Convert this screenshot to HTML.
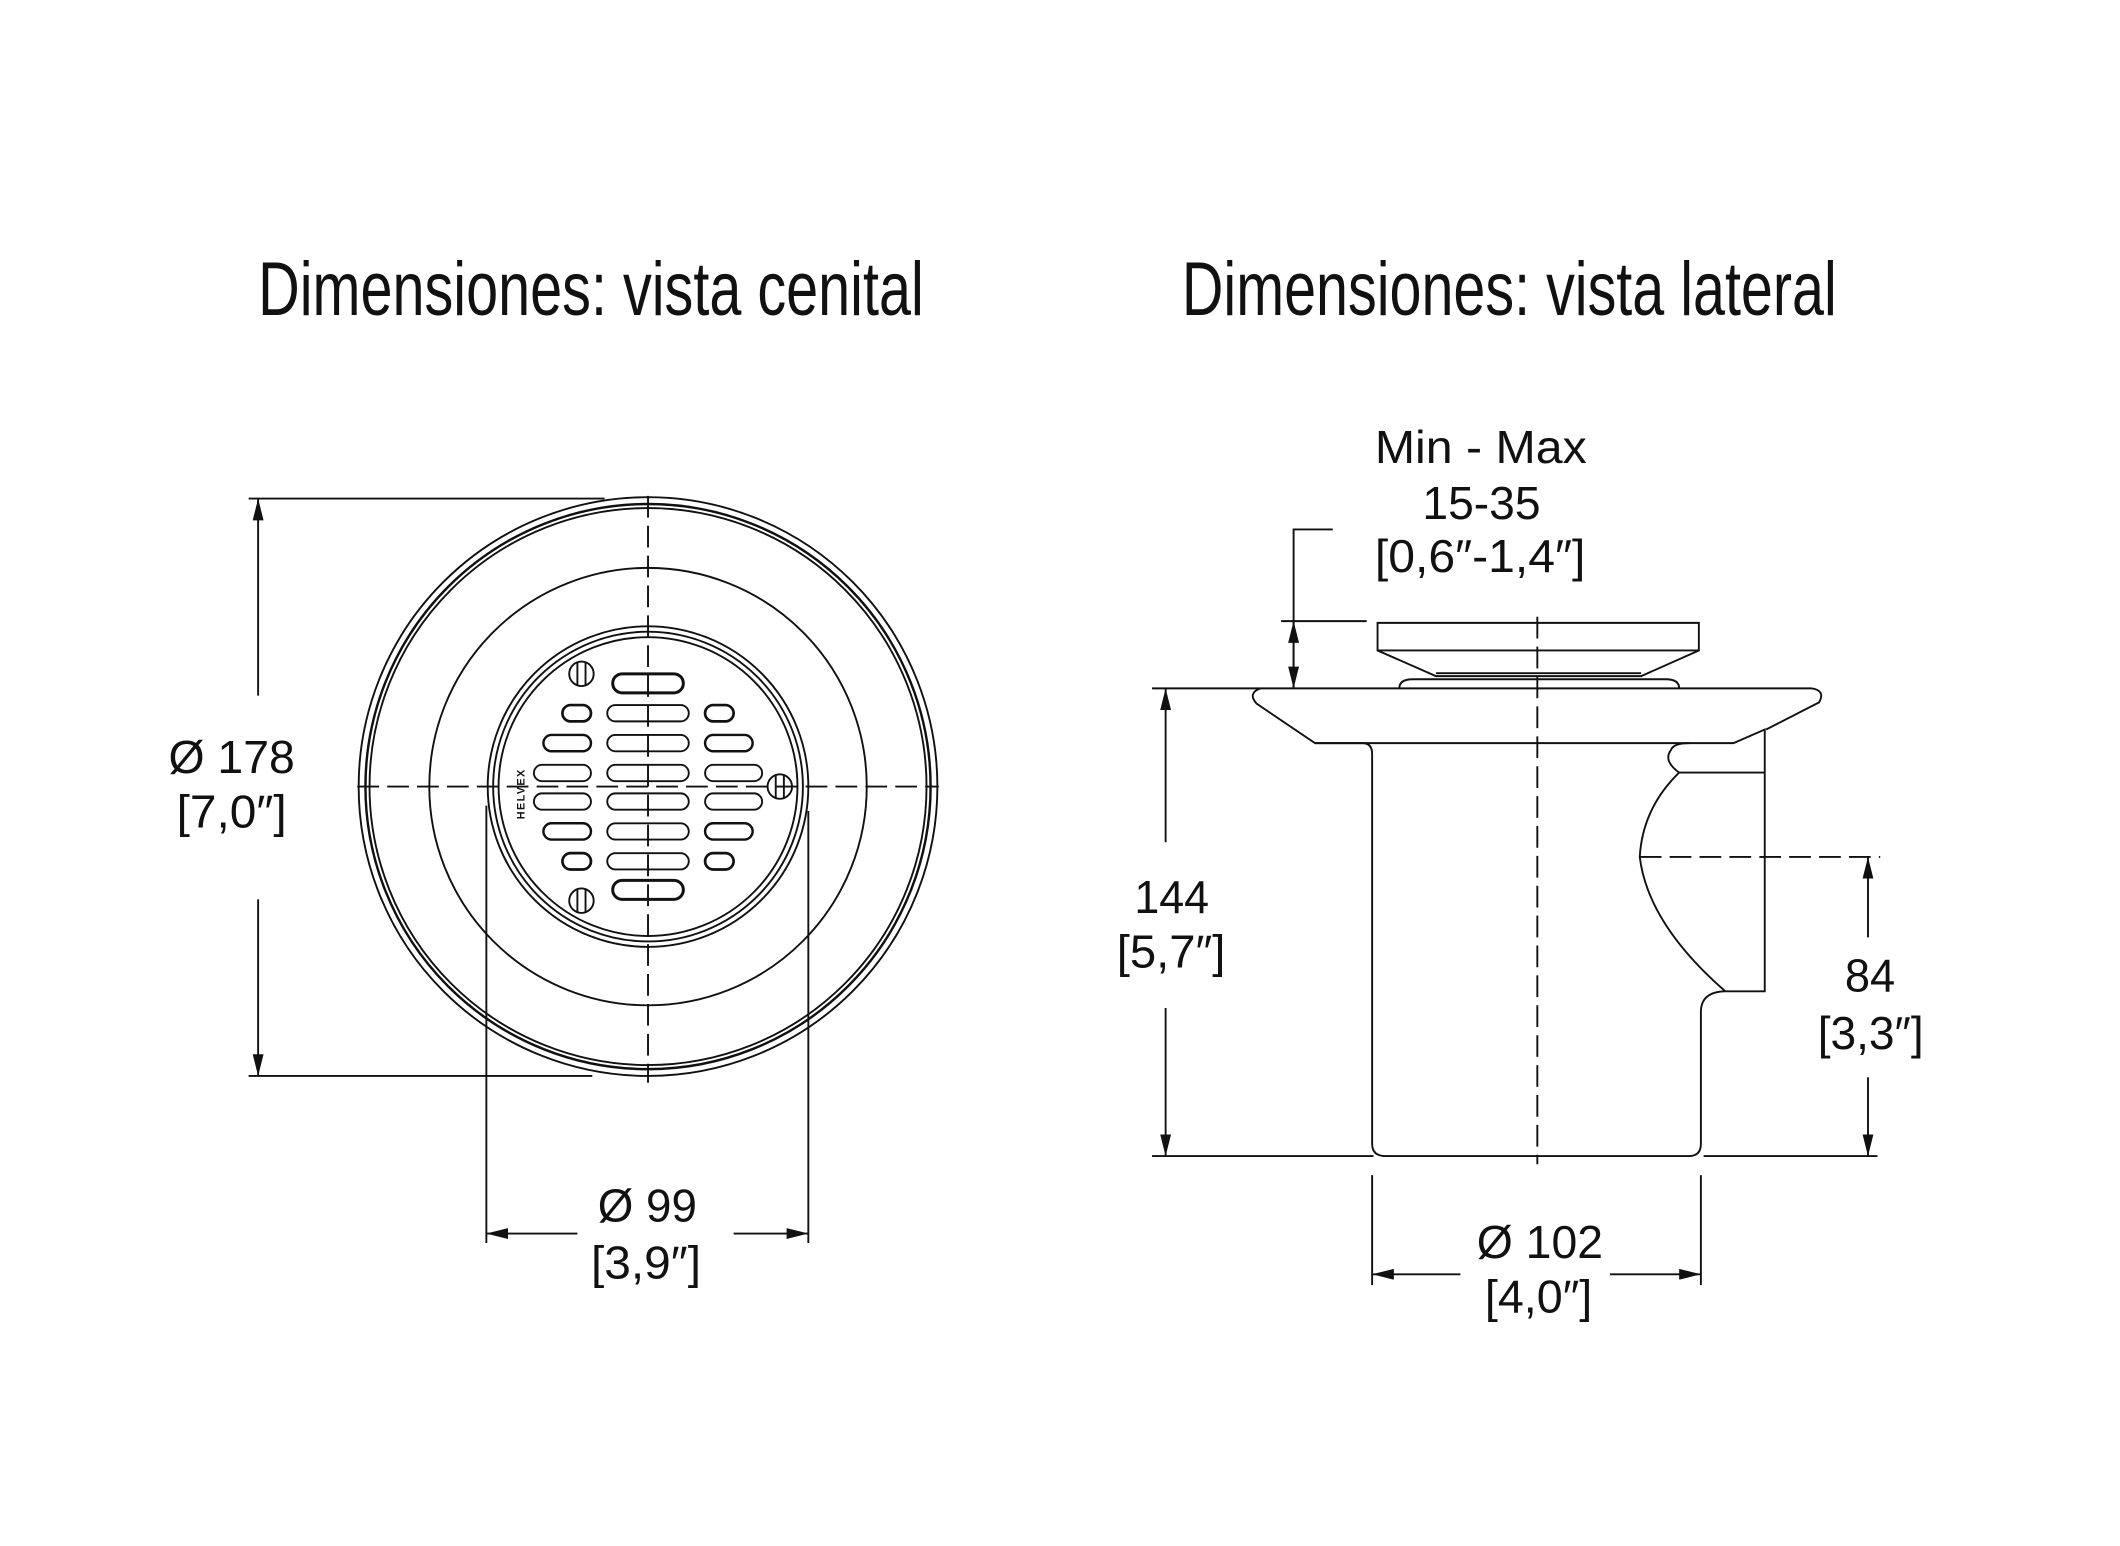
<!DOCTYPE html>
<html><head><meta charset="utf-8"><style>
html,body{margin:0;padding:0;background:#fff;}
svg{display:block;}
text{font-family:"Liberation Sans",sans-serif;fill:#111;}
</style></head><body>
<svg width="2120" height="1546" viewBox="0 0 1560.5 1138" preserveAspectRatio="none" xmlns="http://www.w3.org/2000/svg">
<defs>
<marker id="a" viewBox="0 0 16 8" refX="16" refY="4" markerWidth="16" markerHeight="8" markerUnits="userSpaceOnUse" orient="auto"><path d="M0,0 L16,4 L0,8 z" fill="#111"/></marker>
</defs>
<rect width="1560.5" height="1138" fill="#fff"/>
<text x="190" y="232" font-size="56" textLength="490" lengthAdjust="spacingAndGlyphs">Dimensiones: vista cenital</text>
<text x="870" y="232" font-size="56" textLength="482" lengthAdjust="spacingAndGlyphs">Dimensiones: vista lateral</text>

<g fill="none" stroke="#111" stroke-width="1.4">
<circle cx="477" cy="579" r="213"/>
<circle cx="477" cy="579" r="208" stroke-width="1.8"/>
<circle cx="477" cy="579" r="205"/>
<circle cx="477" cy="579" r="161"/>
<circle cx="477" cy="579" r="118"/>
<circle cx="477" cy="579" r="114"/>
<circle cx="477" cy="579" r="110"/>
<line x1="477" y1="365" x2="477" y2="797" stroke-dasharray="16,6"/>
<line x1="263" y1="579" x2="691" y2="579" stroke-dasharray="16,6"/>
<g transform="translate(477,579)">
 <rect x="-26" y="-83" width="52" height="14" rx="7" stroke-width="2.2"/>
 <rect x="-26" y="69" width="52" height="14" rx="7" stroke-width="2.2"/>
 <rect x="-30" y="-60" width="60" height="12" rx="6"/>
 <rect x="-30" y="-38" width="60" height="12" rx="6"/>
 <rect x="-30" y="-16" width="60" height="12" rx="6"/>
 <rect x="-30" y="5" width="60" height="12" rx="6"/>
 <rect x="-30" y="27" width="60" height="12" rx="6"/>
 <rect x="-30" y="49" width="60" height="12" rx="6"/>
 <rect x="-63" y="-60" width="21" height="12" rx="6" stroke-width="2"/>
 <rect x="-77" y="-38" width="35" height="12" rx="6" stroke-width="1.8"/>
 <rect x="-84" y="-16" width="42" height="12" rx="6"/>
 <rect x="-84" y="5" width="42" height="12" rx="6"/>
 <rect x="-77" y="27" width="35" height="12" rx="6" stroke-width="1.8"/>
 <rect x="-63" y="49" width="21" height="12" rx="6" stroke-width="2"/>
 <rect x="42" y="-60" width="21" height="12" rx="6" stroke-width="2"/>
 <rect x="42" y="-38" width="35" height="12" rx="6" stroke-width="1.8"/>
 <rect x="42" y="-16" width="42" height="12" rx="6"/>
 <rect x="42" y="5" width="42" height="12" rx="6"/>
 <rect x="42" y="27" width="35" height="12" rx="6" stroke-width="1.8"/>
 <rect x="42" y="49" width="21" height="12" rx="6" stroke-width="2"/>
 <circle cx="-49" cy="-83" r="9"/><line x1="-52" y1="-92" x2="-52" y2="-74"/><line x1="-46" y1="-92" x2="-46" y2="-74"/>
 <circle cx="-49" cy="84" r="9"/><line x1="-52" y1="75" x2="-52" y2="93"/><line x1="-46" y1="75" x2="-46" y2="93"/>
 <circle cx="97" cy="0" r="9"/><line x1="94" y1="-9" x2="94" y2="9"/><line x1="100" y1="-9" x2="100" y2="9"/>
</g>
<line x1="183" y1="367" x2="445" y2="367"/>
<line x1="183" y1="792" x2="436" y2="792"/>
<line x1="190" y1="512" x2="190" y2="367" marker-end="url(#a)"/>
<line x1="190" y1="662" x2="190" y2="792" marker-end="url(#a)"/>
<line x1="358" y1="593" x2="358" y2="915"/>
<line x1="595" y1="597" x2="595" y2="915"/>
<line x1="425" y1="908" x2="358" y2="908" marker-end="url(#a)"/>
<line x1="540" y1="908" x2="595" y2="908" marker-end="url(#a)"/>

<path d="M1014,458.5 H1250.5 V478.8 L1208,497.7 H1057 L1014,478.8 Z"/>
<line x1="1014" y1="478.8" x2="1250.5" y2="478.8"/>
<line x1="1057" y1="495.5" x2="1208" y2="495.5"/>
<path d="M1030,506.7 Q1030,500 1040,500 H1226 Q1236,500 1236,506.7"/>
<path d="M928,506.7 H1333 Q1344,508 1339,517 L1300,537"/>
<path d="M928,506.7 Q918,510 925,518 L968,547 H1276 L1299,537 V729.7 H1270"/>
<path d="M968,547 H1003 Q1010,547 1010,555 V842 Q1010,851 1020,851 H1243 Q1252,851 1252,842 V745 Q1252,730 1270,729.7"/>
<path d="M1270,729.7 Q1213,680 1207,630.8 Q1209,595 1236,568.7 L1299,568.7"/>
<path d="M1236,568.7 Q1224,560 1230,552 Q1232,547 1243,547"/>
<line x1="1131.6" y1="454" x2="1131.6" y2="857" stroke-dasharray="16,6"/>
<line x1="1207" y1="630.8" x2="1384" y2="630.8" stroke-dasharray="16,6"/>
<line x1="1375" y1="690" x2="1375" y2="630.8" marker-end="url(#a)"/>
<line x1="1375" y1="793" x2="1375" y2="851" marker-end="url(#a)"/>
<line x1="848" y1="851" x2="1011" y2="851"/>
<line x1="1254" y1="851" x2="1382" y2="851"/>
<line x1="848" y1="506.7" x2="928" y2="506.7"/>
<line x1="858" y1="620" x2="858" y2="506.7" marker-end="url(#a)"/>
<line x1="858" y1="742" x2="858" y2="851" marker-end="url(#a)"/>
<line x1="1010" y1="865" x2="1010" y2="946"/>
<line x1="1252" y1="865" x2="1252" y2="946"/>
<line x1="1075" y1="938" x2="1010" y2="938" marker-end="url(#a)"/>
<line x1="1185" y1="938" x2="1252" y2="938" marker-end="url(#a)"/>
<polyline points="981,389.7 952.2,389.7 952.2,506.7"/>
<line x1="943" y1="457.2" x2="1006" y2="457.2"/>
<line x1="952.2" y1="482" x2="952.2" y2="457.2" marker-end="url(#a)"/>
<line x1="952.2" y1="482" x2="952.2" y2="506.7" marker-end="url(#a)"/>
</g>
<text x="0" y="0" font-size="8" font-weight="bold" letter-spacing="1" transform="translate(386,603) rotate(-90)">HELVEX</text>

<g font-size="34">
<text x="124" y="569" textLength="93" lengthAdjust="spacingAndGlyphs">Ø 178</text>
<text x="130" y="609" textLength="81" lengthAdjust="spacingAndGlyphs">[7,0″]</text>
<text x="440" y="899" textLength="73" lengthAdjust="spacingAndGlyphs">Ø 99</text>
<text x="435" y="941" textLength="81" lengthAdjust="spacingAndGlyphs">[3,9″]</text>
<text x="1012" y="341" textLength="156" lengthAdjust="spacingAndGlyphs">Min - Max</text>
<text x="1047" y="382" textLength="87" lengthAdjust="spacingAndGlyphs">15-35</text>
<text x="1012" y="421" textLength="155" lengthAdjust="spacingAndGlyphs">[0,6″-1,4″]</text>
<text x="835" y="672" textLength="55" lengthAdjust="spacingAndGlyphs">144</text>
<text x="822" y="712" textLength="80" lengthAdjust="spacingAndGlyphs">[5,7″]</text>
<text x="1358" y="730" textLength="37" lengthAdjust="spacingAndGlyphs">84</text>
<text x="1338" y="772" textLength="78" lengthAdjust="spacingAndGlyphs">[3,3″]</text>
<text x="1087" y="926" textLength="93" lengthAdjust="spacingAndGlyphs">Ø 102</text>
<text x="1093" y="966" textLength="79" lengthAdjust="spacingAndGlyphs">[4,0″]</text>
</g>
</svg>
</body></html>
